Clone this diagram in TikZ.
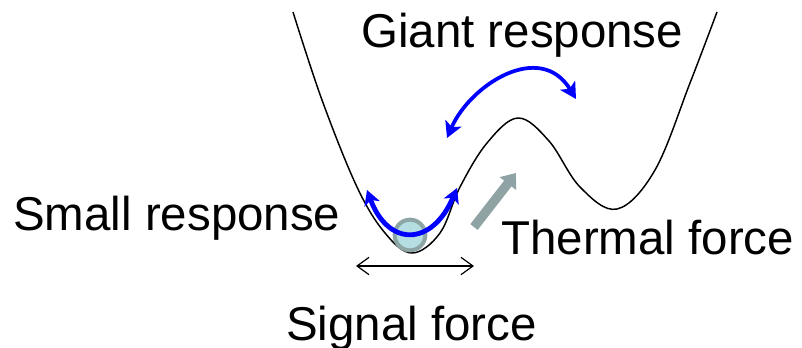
\documentclass[tikz,border=0pt]{standalone}
\usepackage{fontspec}
\setmainfont{Liberation Sans}
\usetikzlibrary{arrows.meta}
\definecolor{ballfill}{HTML}{B4DEE2}
\definecolor{ballring}{HTML}{8EA5A6}
\definecolor{thermal}{HTML}{8FA3A4}
\tikzset{
  lbl/.style={anchor=base west, inner sep=0pt, font=\fontsize{35.6}{40}\selectfont},
  pot/.style={line width=1.1pt, black},
  blu/.style={draw=blue, line width=3.6pt, {Stealth[length=11pt,width=12pt,inset=3pt]}-{Stealth[length=11pt,width=12pt,inset=3pt]}},
  giant/.style={draw=blue, line width=2.8pt, {Stealth[length=12pt,width=13pt,inset=3pt]}-{Stealth[length=12pt,width=13pt,inset=3pt]}},
  therm/.style={draw=thermal, line width=7pt, -{Triangle[length=10pt,width=15pt]}},
  sig/.style={draw=black, line width=0.9pt, {Straight Barb[length=9pt,width=13pt]}-{Straight Barb[length=9pt,width=13pt]}}
}
\begin{document}
\begin{tikzpicture}[x=0.75pt,y=-0.75pt]
\useasboundingbox (0,0) rectangle (802,347);
% potential curve
\draw[pot] plot[smooth, tension=0.6] coordinates {(293,12) (322,100) (357,187) (385,233) (412,253) (440,233) (460,187) (487,143) (518,118) (549,141) (580,187) (617,209) (655,170) (690,83) (717,12)};
% ball
\node[circle, draw=ballring, fill=ballfill, line width=3pt, minimum size=23pt, inner sep=0pt] (ball) at (410,235) {};
% small response arrow
\coordinate (sl) at (367,190);
\coordinate (sr) at (457,188);
\draw[blu] (sl) .. controls (388,247) and (432,247) .. (sr);
% giant response arrow
\coordinate (gl) at (447,138);
\coordinate (gr) at (576,99);
\draw[giant] (gl) .. controls (470,85) and (540,40) .. (gr);
% thermal force arrow
\coordinate (t0) at (474,227);
\coordinate (t1) at (516,173);
\draw[therm] (t0) -- (t1);
% signal force arrow
\coordinate (f0) at (356,266);
\coordinate (f1) at (474,266);
\draw[sig] (f0) -- (f1);
% labels
\node[lbl] (giantlbl) at (361,47) {Giant response};
\node[lbl] (smalllbl) at (13,230) {Small response};
\node[lbl] (thermlbl) at (501,254) {Thermal force};
\node[lbl] (siglbl) at (286,340) {Signal force};
\end{tikzpicture}
\end{document}
